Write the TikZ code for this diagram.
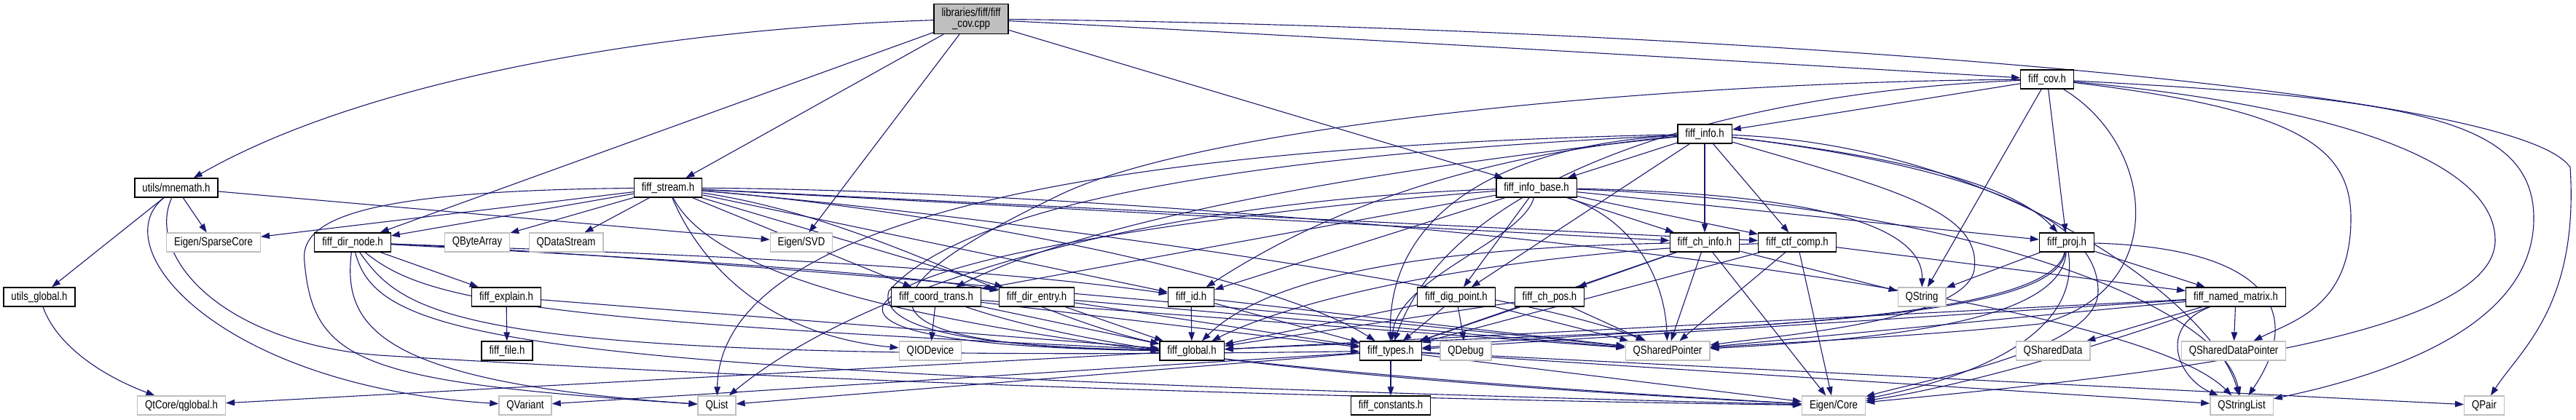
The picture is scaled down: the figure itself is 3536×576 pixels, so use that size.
\documentclass[tikz,border=0pt]{standalone}
\usepackage{fontspec}
\setmainfont{Liberation Sans}
\usepackage{graphicx}
\usetikzlibrary{arrows.meta}
\definecolor{edgec}{HTML}{191970}
\definecolor{extc}{HTML}{BFBFBF}
\newcommand{\sq}[1]{\scalebox{0.825}[1]{#1}}
\pgfdeclarelayer{bg}
\pgfsetlayers{bg,main}
\tikzset{
  nd/.style={draw=black, line width=1.3pt, fill=white, minimum height=26pt, inner xsep=10.5pt, inner ysep=0pt, font=\fontsize{16}{17}\selectfont, text=black},
  ext/.style={nd, draw=extc},
  rt/.style={nd, fill=black!25, minimum height=41pt, align=center, font=\fontsize{16}{15.5}\selectfont},
  e/.style={draw=edgec, line width=1.1pt, -{Triangle[length=12pt,width=8.5pt]}}
}
\begin{document}
\begin{tikzpicture}[x=1pt,y=-1pt]
\useasboundingbox (0,0) rectangle (3536,576);
% rank 0-2
\node[rt] (root) at (1333,26) {\sq{libraries/fiff/fiff}\\\sq{\_cov.cpp}};
\node[nd] (cov) at (2810,109) {\sq{fiff\_cov.h}};
\node[nd] (info) at (2340,184) {\sq{fiff\_info.h}};
% rank 3
\node[nd] (mnemath) at (242,258) {\sq{utils/mnemath.h}};
\node[nd] (stream) at (917,258) {\sq{fiff\_stream.h}};
\node[nd] (ibase) at (2109,258) {\sq{fiff\_info\_base.h}};
% rank 4
\node[ext] (sparse) at (293,333) {\sq{Eigen/SparseCore}};
\node[nd] (dirnode) at (484,333) {\sq{fiff\_dir\_node.h}};
\node[ext] (qbytearray) at (655,333) {\sq{QByteArray}};
\node[ext] (qdatastream) at (777,333) {\sq{QDataStream}};
\node[ext] (svd) at (1100,333) {\sq{Eigen/SVD}};
\node[nd] (chinfo) at (2340,333) {\sq{fiff\_ch\_info.h}};
\node[nd] (ctf) at (2467,333) {\sq{fiff\_ctf\_comp.h}};
\node[nd] (proj) at (2837,333) {\sq{fiff\_proj.h}};
% rank 5
\node[nd] (uglobal) at (54,408) {\sq{utils\_global.h}};
\node[nd] (explain) at (695,408) {\sq{fiff\_explain.h}};
\node[nd] (coord) at (1285,408) {\sq{fiff\_coord\_trans.h}};
\node[nd] (direntry) at (1423,408) {\sq{fiff\_dir\_entry.h}};
\node[nd] (fid) at (1635,408) {\sq{fiff\_id.h}};
\node[nd] (dig) at (1999,408) {\sq{fiff\_dig\_point.h}};
\node[nd] (chpos) at (2127,408) {\sq{fiff\_ch\_pos.h}};
\node[ext] (qstring) at (2638,408) {\sq{QString}};
\node[nd] (nmat) at (3069,408) {\sq{fiff\_named\_matrix.h}};
% rank 6
\node[nd] (ffile) at (696,482) {\sq{fiff\_file.h}};
\node[ext] (qiodevice) at (1277,482) {\sq{QIODevice}};
\node[nd] (fglobal) at (1636,482) {\sq{fiff\_global.h}};
\node[nd] (ftypes) at (1909,482) {\sq{fiff\_types.h}};
\node[ext] (qdebug) at (2012,482) {\sq{QDebug}};
\node[ext] (qsp) at (2289,482) {\sq{QSharedPointer}};
\node[ext] (qsd) at (2818,482) {\sq{QSharedData}};
\node[ext] (qsdp) at (3066,482) {\sq{QSharedDataPointer}};
% rank 7
\node[ext] (qglobal) at (249,557) {\sq{QtCore/qglobal.h}};
\node[ext] (qvariant) at (721,557) {\sq{QVariant}};
\node[ext] (qlist) at (984,557) {\sq{QList}};
\node[nd] (fconst) at (1909,557) {\sq{fiff\_constants.h}};
\node[ext] (ecore) at (2517,557) {\sq{Eigen/Core}};
\node[ext] (qsl) at (3077,557) {\sq{QStringList}};
\node[ext] (qpair) at (3410,557) {\sq{QPair}};

\begin{pgfonlayer}{bg}
% root
\draw[e] (root) .. controls (900,40) and (500,110) .. (mnemath);
\draw[e] (root) -- (dirnode);
\draw[e] (root) -- (stream);
\draw[e] (root) -- (svd);
\draw[e] (root) -- (ibase);
\draw[e] (root) .. controls (1900,55) and (2400,85) .. (cov);
\draw[e] (root) .. controls (2200,35) and (3450,110) .. (3528,230) .. controls (3540,420) and (3460,480) .. (qpair);
% cov
\draw[e] (cov) -- (info);
\draw[e] (cov) -- (proj);
\draw[e] (cov) -- (qstring);
\draw[e] (cov) .. controls (2300,112) and (1650,170) .. (1450,270) .. controls (1180,400) and (1150,475) .. (fglobal);
\draw[e] (cov) .. controls (2400,125) and (2000,230) .. (ftypes);
\draw[e] (cov) .. controls (2960,200) and (2980,400) .. (2800,445) .. controls (2600,465) and (2450,470) .. (qsp);
\draw[e] (cov) .. controls (3150,150) and (3227,200) .. (3227,300) .. controls (3227,420) and (3150,440) .. (qsdp);
\draw[e] (cov) .. controls (3300,135) and (3478,160) .. (3478,300) .. controls (3478,440) and (3300,510) .. (qsl);
\draw[e] (cov) .. controls (3200,145) and (3425,220) .. (3425,330) .. controls (3425,470) and (2900,520) .. (ecore);
% info
\draw[e] (info) -- (ibase);
\draw[e] (info) -- (chinfo);
\draw[e] (info) -- (ctf);
\draw[e] (info) -- (dig);
\draw[e] (info) .. controls (1900,230) and (1500,300) .. (coord);
\draw[e] (info) .. controls (2000,215) and (1800,300) .. (fid);
\draw[e] (info) .. controls (2600,215) and (2760,250) .. (proj);
\draw[e] (info) .. controls (1900,205) and (1350,250) .. (1220,400) .. controls (1200,470) and (1450,478) .. (fglobal);
\draw[e] (info) .. controls (2050,200) and (1905,300) .. (ftypes);
\draw[e] (info) .. controls (1600,200) and (990,280) .. (qlist);
\draw[e] (info) .. controls (2600,260) and (2720,290) .. (2710,370) .. controls (2700,440) and (2450,460) .. (qsp);
\draw[e] (info) .. controls (2750,200) and (3040,420) .. (qsl);
\draw[e] (info) .. controls (2800,240) and (2880,330) .. (2880,400) .. controls (2880,480) and (2650,520) .. (ecore);
% info base
\draw[e] (ibase) -- (chinfo);
\draw[e] (ibase) -- (ctf);
\draw[e] (ibase) -- (dig);
\draw[e] (ibase) -- (fid);
\draw[e] (ibase) -- (coord);
\draw[e] (ibase) -- (proj);
\draw[e] (ibase) .. controls (2090,330) and (1920,380) .. (ftypes);
\draw[e] (ibase) .. controls (2240,300) and (2285,380) .. (qsp);
\draw[e] (ibase) .. controls (1700,290) and (1250,350) .. (1212,420) .. controls (1195,470) and (1450,480) .. (fglobal);
\draw[e] (ibase) .. controls (2450,265) and (2640,300) .. (qstring);
\draw[e] (ibase) .. controls (2700,280) and (3050,420) .. (qsl);
\draw[e] (ibase) .. controls (1600,275) and (1200,380) .. (qlist);
% ch info
\draw[e] (chinfo) -- (chpos);
\draw[e] (chinfo) -- (ftypes);
\draw[e] (chinfo) -- (qsp);
\draw[e] (chinfo) -- (ecore);
\draw[e] (chinfo) -- (qstring);
\draw[e] (chinfo) .. controls (2000,340) and (1750,370) .. (fglobal);
% ctf comp
\draw[e] (ctf) -- (nmat);
\draw[e] (ctf) -- (ftypes);
\draw[e] (ctf) -- (qsp);
\draw[e] (ctf) -- (ecore);
\draw[e] (ctf) .. controls (2100,345) and (1800,400) .. (fglobal);
% proj
\draw[e] (proj) -- (qstring);
\draw[e] (proj) -- (nmat);
\draw[e] (proj) .. controls (2830,440) and (2600,465) .. (qsp);
\draw[e] (proj) .. controls (2820,450) and (2300,445) .. (ftypes);
\draw[e] (proj) .. controls (2810,455) and (2200,455) .. (fglobal);
\draw[e] (proj) .. controls (2860,480) and (2650,530) .. (ecore);
\draw[e] (proj) .. controls (3100,340) and (3170,420) .. (qsl);
% named matrix
\draw[e] (nmat) -- (qsd);
\draw[e] (nmat) -- (qsdp);
\draw[e] (nmat) .. controls (2960,450) and (2990,520) .. (qsl);
\draw[e] (nmat) .. controls (2900,470) and (2700,530) .. (ecore);
\draw[e] (nmat) -- (qsp);
\draw[e] (nmat) -- (ftypes);
\draw[e] (nmat) -- (fglobal);
% stream
\draw[e] (stream) -- (sparse);
\draw[e] (stream) -- (dirnode);
\draw[e] (stream) -- (qbytearray);
\draw[e] (stream) -- (qdatastream);
\draw[e] (stream) .. controls (500,262) and (410,300) .. (418,360) .. controls (430,500) and (500,525) .. (qlist);
\draw[e] (stream) .. controls (960,360) and (1050,460) .. (qiodevice);
\draw[e] (stream) -- (coord);
\draw[e] (stream) -- (direntry);
\draw[e] (stream) -- (fid);
\draw[e] (stream) -- (chinfo);
\draw[e] (stream) -- (ctf);
\draw[e] (stream) .. controls (1200,300) and (1400,430) .. (fglobal);
\draw[e] (stream) .. controls (1300,290) and (1750,380) .. (ftypes);
\draw[e] (stream) .. controls (1400,300) and (2100,400) .. (qsp);
\draw[e] (stream) .. controls (1600,262) and (2900,380) .. (qsl);
\draw[e] (stream) .. controls (1000,420) and (1500,500) .. (ecore);
% dir node
\draw[e] (dirnode) -- (explain);
\draw[e] (dirnode) .. controls (800,350) and (1200,370) .. (direntry);
\draw[e] (dirnode) .. controls (800,345) and (1300,360) .. (fid);
\draw[e] (dirnode) .. controls (580,410) and (700,440) .. (fglobal);
\draw[e] (dirnode) .. controls (560,440) and (640,500) .. (ftypes);
\draw[e] (dirnode) .. controls (900,350) and (1700,420) .. (qsp);
\draw[e] (dirnode) .. controls (470,450) and (520,525) .. (qlist);
\draw[e] (dirnode) .. controls (520,470) and (700,510) .. (ecore);
% explain
\draw[e] (explain) -- (ffile);
\draw[e] (explain) -- (fglobal);
% coord trans
\draw[e] (coord) -- (qiodevice);
\draw[e] (coord) -- (fglobal);
\draw[e] (coord) -- (ftypes);
\draw[e] (coord) -- (qsp);
\draw[e] (coord) .. controls (1500,480) and (1800,520) .. (ecore);
% dir entry
\draw[e] (direntry) -- (fglobal);
\draw[e] (direntry) -- (ftypes);
\draw[e] (direntry) -- (qsp);
% id
\draw[e] (fid) -- (fglobal);
\draw[e] (fid) -- (ftypes);
\draw[e] (fid) -- (qsp);
% dig point
\draw[e] (dig) -- (fglobal);
\draw[e] (dig) -- (ftypes);
\draw[e] (dig) -- (qdebug);
\draw[e] (dig) -- (qsp);
% ch pos
\draw[e] (chpos) -- (fglobal);
\draw[e] (chpos) -- (ftypes);
\draw[e] (chpos) -- (qsp);
% types
\draw[e] (ftypes) -- (fconst);
\draw[e] (ftypes) -- (qvariant);
\draw[e] (ftypes) -- (qlist);
\draw[e] (ftypes) -- (ecore);
\draw[e] (ftypes) -- (qsl);
\draw[e] (ftypes) -- (qpair);
% global
\draw[e] (fglobal) -- (qglobal);
% mnemath
\draw[e] (mnemath) -- (uglobal);
\draw[e] (mnemath) -- (sparse);
\draw[e] (mnemath) -- (svd);
\draw[e] (mnemath) .. controls (140,340) and (300,530) .. (qvariant);
\draw[e] (mnemath) .. controls (200,350) and (300,470) .. (520,488) .. controls (1200,530) and (2000,550) .. (ecore);
% utils global
\draw[e] (uglobal) .. controls (80,480) and (150,520) .. (qglobal);
\end{pgfonlayer}
\end{tikzpicture}
\end{document}
